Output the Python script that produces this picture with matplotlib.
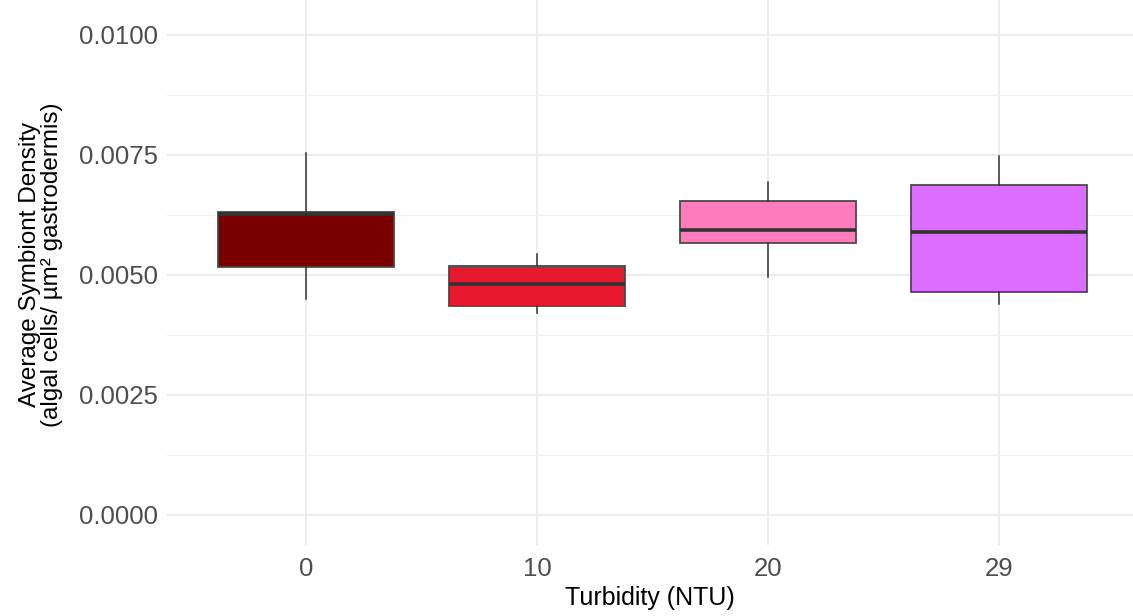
import matplotlib.pyplot as plt

plt.rcParams['font.family'] = ['Liberation Sans', 'DejaVu Sans']

# turbidity treatments and box summaries (algal cells / um^2)
turbidity = ['0', '10', '20', '29']
whisker_lo = [0.00450, 0.00421, 0.00495, 0.00440]
q1 = [0.00517, 0.00436, 0.00567, 0.00464]
median = [0.00628, 0.00481, 0.00594, 0.00590]
q3 = [0.00632, 0.00519, 0.00655, 0.00688]
whisker_hi = [0.00755, 0.00544, 0.00694, 0.00748]
fills = ['#7a0000', '#e8192c', '#ff7bbb', '#dd6dff']

stats = []
for i, lab in enumerate(turbidity):
    stats.append({'label': lab, 'whislo': whisker_lo[i], 'q1': q1[i],
                  'med': median[i], 'q3': q3[i], 'whishi': whisker_hi[i],
                  'fliers': []})

fig = plt.figure(figsize=(11.33, 6.16), dpi=100)
ax = fig.add_axes([167.4 / 1133, 1 - 545 / 616, (1133 - 167.4) / 1133, 545 / 616])

pos = list(range(1, len(turbidity) + 1))
bp = ax.bxp(stats, positions=pos, widths=0.76, patch_artist=True,
            showcaps=False,
            boxprops=dict(edgecolor='#4a4a4a', linewidth=1.3),
            medianprops=dict(color='#333333', linewidth=2.6, solid_capstyle='butt'),
            whiskerprops=dict(color='#333333', linewidth=1.1),
            zorder=3)
for patch, c in zip(bp['boxes'], fills):
    patch.set_facecolor(c)

ax.set_xlim(0.4, 4.58)
ax.set_ylim(-0.000625, 0.010729)
ax.set_yticks([0, 0.0025, 0.005, 0.0075, 0.01])
ax.set_yticklabels(['0.0000', '0.0025', '0.0050', '0.0075', '0.0100'])
ax.set_yticks([0.00125, 0.00375, 0.00625, 0.00875], minor=True)
ax.set_xticks(pos)
ax.set_xticklabels(turbidity)

ax.grid(True, which='major', color='#ebebeb', linewidth=1.3, zorder=0)
ax.grid(True, which='minor', axis='y', color='#f0f0f0', linewidth=0.9, zorder=0)
ax.set_axisbelow(True)
for s in ax.spines.values():
    s.set_visible(False)
ax.tick_params(which='both', length=0)
ax.tick_params(axis='both', labelsize=18.5, labelcolor='#4d4d4d')
ax.tick_params(axis='y', pad=7)
ax.tick_params(axis='x', pad=9)

ax.set_xlabel('Turbidity (NTU)', fontsize=18, labelpad=3)
ax.set_ylabel('Average Symbiont Density\n(algal cells/ \u00b5m\u00b2 gastrodermis)',
              fontsize=17.5, linespacing=0.98)
ax.yaxis.set_label_coords(-0.108, 0.515)

fig.savefig('out.png', dpi=100)
